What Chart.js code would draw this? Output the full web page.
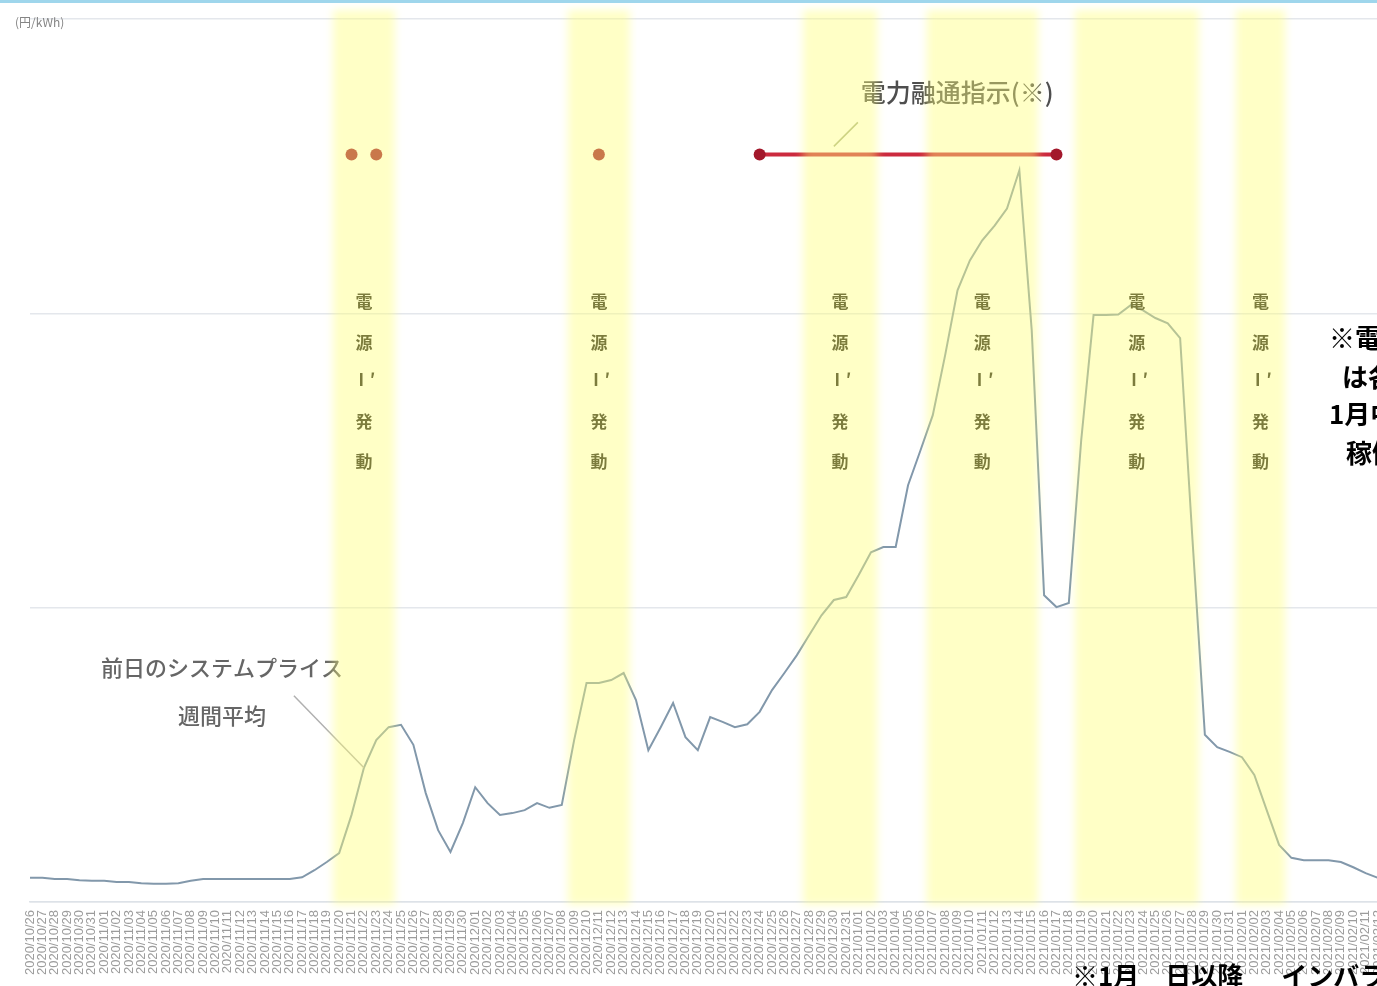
<!DOCTYPE html>
<html lang="ja">
<head>
<meta charset="utf-8">
<title>システムプライスの推移</title>
<script src="https://cdn.jsdelivr.net/npm/chart.js@4.4.1/dist/chart.umd.min.js"></script>
<style>
  html, body { margin: 0; padding: 0; background: #fff; overflow: hidden; }
  body { width: 1377px; height: 986px; position: relative; font-family: "Noto Sans CJK JP", "Noto Sans", sans-serif; }
  .topline { position: absolute; left: 0; top: 0; width: 100%; height: 3px; background: #9fd6ec; z-index: 2; }
  #wrap { position: absolute; left: 0; top: 0; width: 1384px; height: 986px; }
  .unit { position: absolute; left: 15px; top: 13px; font-size: 12px; color: #858585; }
  .note { position: absolute; font-weight: 700; color: #000; white-space: pre; font-size: 26px; line-height: 38px; }
</style>
</head>
<body>
<div class="topline"></div>
<div id="wrap"><canvas id="priceChart"></canvas></div>
<div class="unit">(円/kWh)</div>
<div class="note" style="left:1329px; top:318px;">※電源Ⅰ′の発動状況</div>
<div class="note" style="left:1342px; top:357px;">は各エリアの合計</div>
<div class="note" style="left:1329px; top:394px;">1月中旬以降は連続</div>
<div class="note" style="left:1346px; top:433px;">稼働</div>
<div class="note" style="left:1072px; top:960px; line-height:30px;">※1月　日以降　  インバランス料金に上限</div>
<script>
// daily categories
const dates = [
  '2020/10/26', '2020/10/27', '2020/10/28', '2020/10/29', '2020/10/30', '2020/10/31',
  '2020/11/01', '2020/11/02', '2020/11/03', '2020/11/04', '2020/11/05', '2020/11/06', '2020/11/07', '2020/11/08',
  '2020/11/09', '2020/11/10', '2020/11/11', '2020/11/12', '2020/11/13', '2020/11/14', '2020/11/15', '2020/11/16',
  '2020/11/17', '2020/11/18', '2020/11/19', '2020/11/20', '2020/11/21', '2020/11/22', '2020/11/23', '2020/11/24',
  '2020/11/25', '2020/11/26', '2020/11/27', '2020/11/28', '2020/11/29', '2020/11/30',
  '2020/12/01', '2020/12/02', '2020/12/03', '2020/12/04', '2020/12/05', '2020/12/06', '2020/12/07', '2020/12/08',
  '2020/12/09', '2020/12/10', '2020/12/11', '2020/12/12', '2020/12/13', '2020/12/14', '2020/12/15', '2020/12/16',
  '2020/12/17', '2020/12/18', '2020/12/19', '2020/12/20', '2020/12/21', '2020/12/22', '2020/12/23', '2020/12/24',
  '2020/12/25', '2020/12/26', '2020/12/27', '2020/12/28', '2020/12/29', '2020/12/30', '2020/12/31',
  '2021/01/01', '2021/01/02', '2021/01/03', '2021/01/04', '2021/01/05', '2021/01/06', '2021/01/07', '2021/01/08',
  '2021/01/09', '2021/01/10', '2021/01/11', '2021/01/12', '2021/01/13', '2021/01/14', '2021/01/15', '2021/01/16',
  '2021/01/17', '2021/01/18', '2021/01/19', '2021/01/20', '2021/01/21', '2021/01/22', '2021/01/23', '2021/01/24',
  '2021/01/25', '2021/01/26', '2021/01/27', '2021/01/28', '2021/01/29', '2021/01/30', '2021/01/31',
  '2021/02/01', '2021/02/02', '2021/02/03', '2021/02/04', '2021/02/05', '2021/02/06', '2021/02/07', '2021/02/08',
  '2021/02/09', '2021/02/10', '2021/02/11', '2021/02/12'
];

// system price (yen/kWh)
const systemPrice = [
  4.1, 4.1, 3.9, 3.9, 3.7, 3.6, 3.6, 3.4, 3.4, 3.2,
  3.1, 3.1, 3.2, 3.6, 3.9, 3.9, 3.9, 3.9, 3.9, 3.9,
  3.9, 3.9, 4.2, 5.4, 6.8, 8.3, 14.8, 22.8, 27.5, 29.7,
  30.1, 26.7, 18.5, 12.2, 8.5, 13.4, 19.5, 16.8, 14.8, 15.1,
  15.6, 16.8, 16.0, 16.5, 27.5, 37.2, 37.2, 37.7, 38.9, 34.3,
  25.8, 29.7, 33.8, 28.0, 25.8, 31.4, 30.6, 29.7, 30.2, 32.3,
  36.0, 38.9, 41.9, 45.3, 48.7, 51.3, 51.8, 55.5, 59.4, 60.3,
  60.3, 70.8, 76.7, 82.7, 92.9, 103.9, 109.0, 112.4, 114.9, 117.8,
  124.3, 97.1, 52.1, 50.1, 50.8, 78.4, 99.7, 99.7, 99.8, 101.4,
  100.5, 99.2, 98.3, 95.8, 61.5, 28.4, 26.3, 25.5, 24.6, 21.6,
  15.6, 9.7, 7.5, 7.1, 7.1, 7.1, 6.8, 5.9, 4.9, 4.1
];

// 電源Ⅰ′ activation periods (first day, last day)
const dengenBands = [
  ['2020/11/20', '2020/11/24'],
  ['2020/12/09', '2020/12/13'],
  ['2020/12/28', '2021/01/02'],
  ['2021/01/07', '2021/01/15'],
  ['2021/01/19', '2021/01/28'],
  ['2021/02/01', '2021/02/04']
];
const bandText = ['電', '源', 'Ⅰ′', '発', '動'];

// 融通指示 days and continuous period
const interchangeDays = ['2020/11/21', '2020/11/23', '2020/12/11'];
const interchangeSpan = ['2020/12/24', '2021/01/17'];
const markerLevel = 127;

const yTicks = [0, 50, 100, 150];

const jp = '"Noto Sans CJK JP", "Noto Sans", sans-serif';
const dayIndex = d => dates.indexOf(d);

const dotData = dates.map(d => interchangeDays.includes(d) ? markerLevel : null);
const spanData = dates.map(d => interchangeSpan.includes(d) ? markerLevel : null);

// text labels and leader lines, drawn under the band overlay
const notesPlugin = {
  id: 'notes',
  afterDatasetsDraw(chart) {
    const { ctx, scales: { x, y } } = chart;
    ctx.save();
    ctx.textAlign = 'center';
    ctx.textBaseline = 'middle';

    // vertical caption inside each band
    ctx.fillStyle = '#1e1e14';
    ctx.font = '700 17px ' + jp;
    const rows = [302, 343, 380, 422, 462];
    dengenBands.forEach(([a, b]) => {
      const cx = (x.getPixelForValue(dayIndex(a)) + x.getPixelForValue(dayIndex(b))) / 2;
      bandText.forEach((ch, k) => ctx.fillText(ch, cx, rows[k]));
    });

    // callout for the interchange line
    const lx = x.getPixelForValue(dayIndex('2020/12/30'));
    const ly = y.getPixelForValue(markerLevel);
    ctx.strokeStyle = '#a9b48a';
    ctx.lineWidth = 1.5;
    ctx.beginPath();
    ctx.moveTo(lx, ly - 8);
    ctx.lineTo(lx + 24, ly - 32);
    ctx.stroke();
    ctx.fillStyle = '#4e4e4e';
    ctx.font = '500 25px ' + jp;
    ctx.textAlign = 'left';
    ctx.fillText('電力融通指示(※)', lx + 27, ly - 62);

    // callout for the price line
    const pi = dayIndex('2020/11/22');
    const px = x.getPixelForValue(pi);
    const py = y.getPixelForValue(systemPrice[pi]);
    ctx.strokeStyle = '#b0b0b0';
    ctx.beginPath();
    ctx.moveTo(px - 70, py - 72);
    ctx.lineTo(px, py);
    ctx.stroke();
    ctx.fillStyle = '#666';
    ctx.font = '500 22px ' + jp;
    ctx.textAlign = 'center';
    ctx.fillText('前日のシステムプライス', px - 142, py - 100);
    ctx.fillText('週間平均', px - 142, py - 52);
    ctx.restore();
  }
};

// translucent yellow bands over everything in the plot
const bandsPlugin = {
  id: 'dengenBands',
  afterDraw(chart) {
    const { ctx, chartArea, scales: { x } } = chart;
    const half = (x.getPixelForValue(1) - x.getPixelForValue(0)) / 2;
    ctx.save();
    ctx.filter = 'blur(4px)';
    ctx.fillStyle = 'rgba(255, 255, 120, 0.42)';
    dengenBands.forEach(([a, b]) => {
      const left = x.getPixelForValue(dayIndex(a)) - half;
      const right = x.getPixelForValue(dayIndex(b)) + half;
      ctx.fillRect(left, chartArea.top - 9, right - left, chartArea.bottom - chartArea.top + 12);
    });
    ctx.restore();
  }
};

new Chart(document.getElementById('priceChart'), {
  type: 'line',
  data: {
    labels: dates,
    datasets: [
      {
        label: '融通指示期間',
        data: spanData,
        spanGaps: true,
        borderColor: '#cc2a3e',
        borderWidth: 4,
        pointRadius: 6,
        pointBackgroundColor: '#a3182b',
        pointBorderWidth: 0
      },
      {
        label: '融通指示',
        data: dotData,
        showLine: false,
        pointRadius: 6,
        pointBackgroundColor: '#a3182b',
        pointBorderWidth: 0
      },
      {
        label: 'システムプライス',
        data: systemPrice,
        borderColor: '#8298ab',
        borderWidth: 2,
        pointRadius: 0,
        tension: 0
      }
    ]
  },
  options: {
    responsive: true,
    maintainAspectRatio: false,
    animation: false,
    layout: { padding: { top: 19, left: 30, right: 0, bottom: 0 } },
    plugins: {
      legend: { display: false },
      tooltip: { enabled: false }
    },
    scales: {
      x: {
        grid: { display: false, drawTicks: false },
        border: { color: '#dde2e8', width: 1.5 },
        ticks: {
          autoSkip: false,
          minRotation: 90,
          maxRotation: 90,
          padding: 8,
          color: '#9c9c9c',
          font: { size: 13, family: '"Liberation Sans", sans-serif' }
        },
        afterFit(scale) {
          scale.height = 84;
          scale.paddingLeft = 0;
          scale.paddingRight = 0;
        }
      },
      y: {
        min: yTicks[0],
        max: yTicks[yTicks.length - 1],
        afterBuildTicks(scale) {
          scale.ticks = yTicks.map(v => ({ value: v }));
        },
        ticks: { display: false },
        grid: { color: '#e4e7ec', lineWidth: 1.5, drawTicks: false },
        border: { display: false },
        afterFit(scale) { scale.width = 0; }
      }
    }
  },
  plugins: [notesPlugin, bandsPlugin]
});
</script>
</body>
</html>
